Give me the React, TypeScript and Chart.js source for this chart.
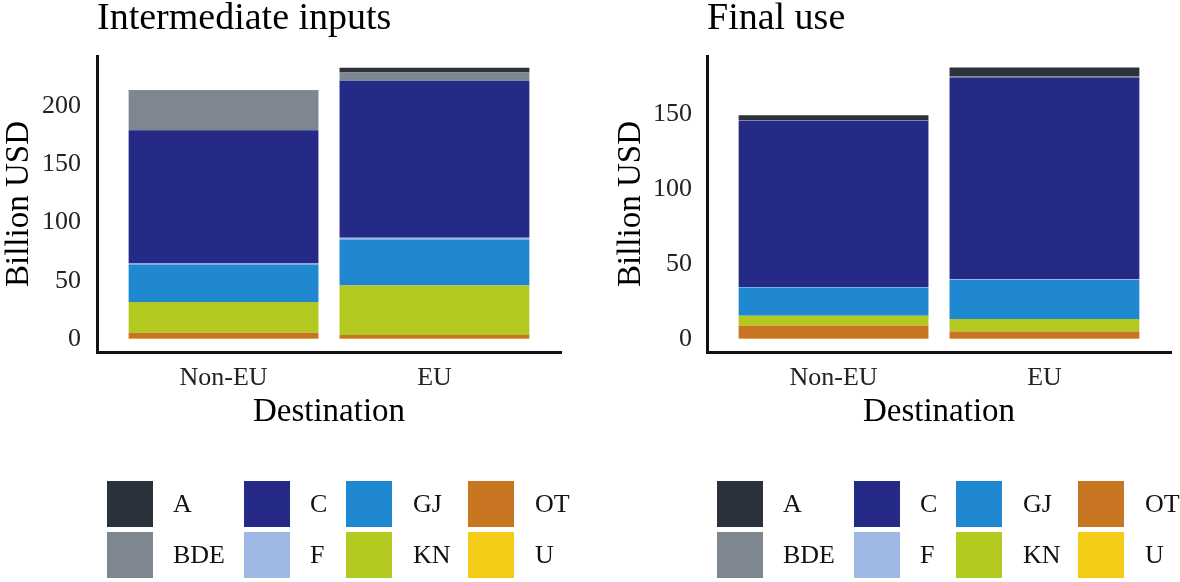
import React, { useEffect, useRef } from 'react';
import { Chart, registerables } from 'chart.js';

Chart.register(...registerables);

// ---- data ----
const CATEGORIES = ['Non-EU', 'EU'];
const SECTORS = ['A', 'BDE', 'C', 'F', 'GJ', 'KN', 'OT', 'U'];

// Intermediate inputs (billion USD): [Non-EU, EU]
const INT_A = [0.5, 4.0];
const INT_BDE = [34.0, 7.2];
const INT_C = [114.4, 134.7];
const INT_F = [0.9, 1.5];
const INT_GJ = [32.1, 39.6];
const INT_KN = [26.4, 42.4];
const INT_OT = [5.2, 3.2];
const INT_U = [0.2, 0.2];

// Final use (billion USD): [Non-EU, EU]
const FIN_A = [3.3, 6.0];
const FIN_BDE = [0.3, 0.7];
const FIN_C = [111.0, 134.5];
const FIN_F = [0.3, 0.5];
const FIN_GJ = [18.9, 26.2];
const FIN_KN = [6.7, 8.3];
const FIN_OT = [8.7, 4.9];
const FIN_U = [0.1, 0.1];

const INT_TICKS = [0, 50, 100, 150, 200];
const FIN_TICKS = [0, 50, 100, 150];

// ---- styles ----
const COLORS: Record<string, string> = {
  A: '#2b323b',
  BDE: '#7e878f',
  C: '#242a85',
  F: '#a0b8e4',
  GJ: '#2087d1',
  KN: '#b3c920',
  OT: '#c77520',
  U: '#f2cd17',
};
const FONT = '"Liberation Serif", "Times New Roman", serif';

const legendGrid = {
  id: 'legendGrid',
  afterDraw(chart: any) {
    const { ctx, chartArea } = chart;
    const boxX = [10, 147, 249, 371];
    const textX = [76, 213, 316, 438];
    const rowsY = [chartArea.bottom + 129, chartArea.bottom + 180];
    ctx.save();
    ctx.font = `26px ${FONT}`;
    ctx.textBaseline = 'middle';
    ctx.textAlign = 'left';
    SECTORS.forEach((s, i) => {
      const col = Math.floor(i / 2);
      const row = i % 2;
      const ds = chart.data.datasets.find((d: any) => d.label === s);
      ctx.fillStyle = ds ? ds.backgroundColor : '#000';
      ctx.fillRect(chartArea.left + boxX[col], rowsY[row], 46, 46);
      ctx.fillStyle = '#111';
      ctx.fillText(s, chartArea.left + textX[col], rowsY[row] + 24.5);
    });
    ctx.restore();
  },
};

function makeConfig(
  title: string,
  values: Record<string, number[]>,
  yMin: number,
  yMax: number,
  yTicks: number[],
  yAxisWidth: number,
  yTitlePad: number,
  yTickPad: number,
  padRight: number
): any {
  const stackOrder = [...SECTORS].reverse(); // U bottom ... A top
  const datasets = stackOrder.map((s) => ({
    label: s,
    data: values[s].map((v, i) => ({ x: i, y: v })),
    backgroundColor: COLORS[s],
    borderWidth: 0,
    barPercentage: 0.9,
    categoryPercentage: 1,
  }));
  return {
    type: 'bar',
    data: { datasets },
    plugins: [legendGrid],
    options: {
      animation: false,
      responsive: false,
      devicePixelRatio: 1,
      layout: { padding: { left: 0, right: padRight, top: 0, bottom: 150 } },
      plugins: {
        legend: { display: false },
        tooltip: { enabled: false },
        title: {
          display: true,
          text: title,
          align: 'start',
          fullSize: false,
          color: '#000',
          font: { family: FONT, size: 38, weight: 'normal', lineHeight: 1 },
          padding: { top: 0, bottom: 18 },
        },
      },
      scales: {
        x: {
          type: 'linear',
          min: -0.6,
          max: 1.6,
          offset: false,
          bounds: 'data',
          stacked: true,
          afterBuildTicks: (s: any) => {
            s.ticks = CATEGORIES.map((_, i) => ({ value: i }));
          },
          afterFit: (s: any) => {
            s.height = 80;
          },
          grid: { display: false, drawTicks: false, offset: false },
          border: { display: true, color: '#111', width: 3 },
          ticks: {
            callback: (v: any) => CATEGORIES[v],
            font: { family: FONT, size: 26, lineHeight: 1 },
            color: '#222',
            padding: 13,
            maxRotation: 0,
            autoSkip: false,
          },
          title: {
            display: true,
            text: 'Destination',
            color: '#000',
            font: { family: FONT, size: 33, lineHeight: 1 },
            padding: { top: 0, bottom: 3.5 },
          },
        },
        y: {
          type: 'linear',
          min: yMin,
          max: yMax,
          stacked: true,
          afterBuildTicks: (s: any) => {
            s.ticks = yTicks.map((v) => ({ value: v }));
          },
          afterFit: (s: any) => {
            s.width = yAxisWidth;
          },
          grid: { display: false, drawTicks: false },
          border: { display: true, color: '#111', width: 3 },
          ticks: {
            callback: (v: any) => String(v),
            font: { family: FONT, size: 26, lineHeight: 1 },
            color: '#222',
            padding: yTickPad,
          },
          title: {
            display: true,
            text: 'Billion USD',
            color: '#000',
            font: { family: FONT, size: 33, lineHeight: 1 },
            padding: { top: yTitlePad, bottom: 0 },
          },
        },
      },
    },
  };
}

export default function App() {
  const leftRef = useRef<HTMLCanvasElement>(null);
  const rightRef = useRef<HTMLCanvasElement>(null);

  useEffect(() => {
    const intValues = {
      A: INT_A, BDE: INT_BDE, C: INT_C, F: INT_F, GJ: INT_GJ, KN: INT_KN, OT: INT_OT, U: INT_U,
    };
    const finValues = {
      A: FIN_A, BDE: FIN_BDE, C: FIN_C, F: FIN_F, GJ: FIN_GJ, KN: FIN_KN, OT: FIN_OT, U: FIN_U,
    };
    const left = new Chart(
      leftRef.current as HTMLCanvasElement,
      makeConfig('Intermediate inputs', intValues, -11.2, 242.9, INT_TICKS, 97, 2.5, 16, 29)
    );
    const right = new Chart(
      rightRef.current as HTMLCanvasElement,
      makeConfig('Final use', finValues, -8.7, 188.9, FIN_TICKS, 117, 24.5, 15, 9)
    );
    return () => {
      left.destroy();
      right.destroy();
    };
  }, []);

  return (
    <div
      style={{
        position: 'fixed',
        left: 0,
        top: 0,
        width: 1180,
        height: 582,
        background: '#fff',
        overflow: 'hidden',
      }}
    >
      <canvas ref={leftRef} width={590} height={582} style={{ position: 'absolute', left: 0, top: 0 }} />
      <canvas ref={rightRef} width={590} height={582} style={{ position: 'absolute', left: 590, top: 0 }} />
    </div>
  );
}
